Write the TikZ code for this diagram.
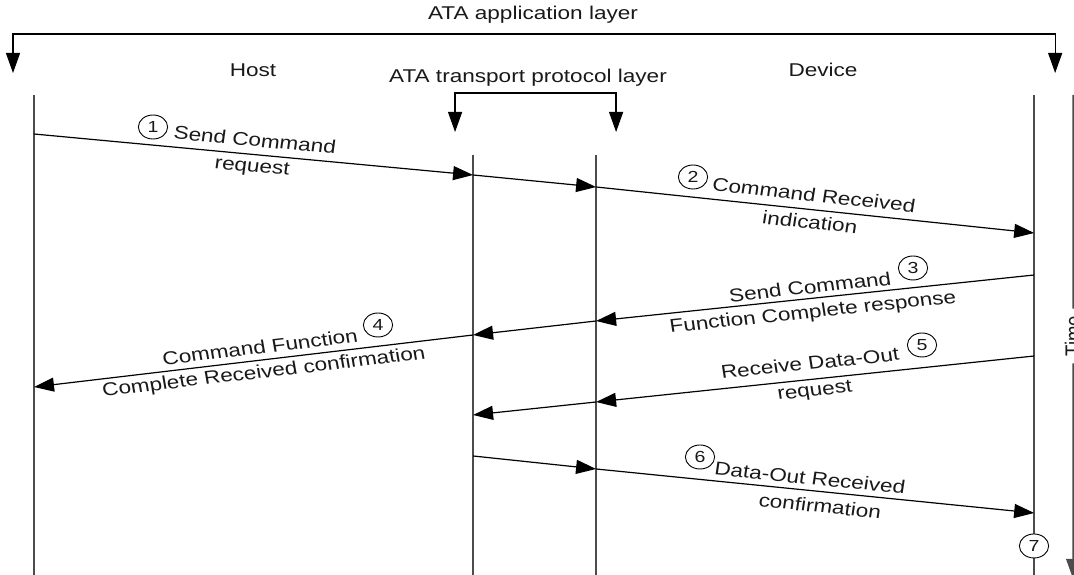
\documentclass[tikz,border=0pt]{standalone}
\usepackage{fontspec}
\setmainfont{Liberation Sans}
\usetikzlibrary{arrows.meta}

\begin{document}
\begin{tikzpicture}[x=0.8197pt, y=-1pt, xscale=1.22,
		every node/.style={transform shape, inner sep=1pt, text=black!90, font=\fontsize{18.5}{20}\selectfont},
		tip/.style={-{Triangle[length=20pt,width=14pt]}},
		msg/.style={tip, line width=1.2pt},
		life/.style={line width=1.5pt, black!70},
		num/.style={draw, circle, line width=0.9pt, inner sep=0pt, minimum size=24pt, fill=white, font=\fontsize{16}{16}\selectfont}]
		\useasboundingbox (0,0) rectangle (1074,575);
		% layer headings
		\node (app) at (533,15) {ATA application layer};
		\node (host) at (253,70) {Host};
		\node (dev) at (823,70) {Device};
		\node (tpl) at (528,78) {ATA transport protocol layer};
		\coordinate (appL) at (13,73);
		\coordinate (appR) at (1055,73);
		\coordinate (tpL) at (455,132);
		\coordinate (tpR) at (616,132);
		\draw[line width=1.2pt, {Triangle[length=20pt,width=14pt]}-{Triangle[length=20pt,width=14pt]}] (appL) -- ++(0,-39) -| (appR);
		\draw[line width=1.2pt, {Triangle[length=20pt,width=14pt]}-{Triangle[length=20pt,width=14pt]}] (tpL) -- ++(0,-39) -| (tpR);
		% lifelines
		\coordinate (hT) at (34,95);   \coordinate (hB) at (34,575);
		\coordinate (lT) at (473,155); \coordinate (lB) at (473,575);
		\coordinate (rT) at (596,155); \coordinate (rB) at (596,575);
		\coordinate (dT) at (1034,95); \coordinate (dB) at (1034,575);
		\draw[life] (hT) -- (hB);
		\draw[life] (lT) -- (lB);
		\draw[life] (rT) -- (rB);
		\draw[life] (dT) -- (dB);
		% time axis
		\coordinate (tT) at (1073,95);
		\coordinate (tB) at (1073,579);
		\node[rotate=90, inner sep=7pt] (time) at (1073,336) {Time};
		\draw[life] (tT) -- (time);
		\draw[life, tip] (time) -- (tB);
		% message points
		\coordinate (h1) at (34,134);  \coordinate (l1) at (473,175);
		\coordinate (r1) at (596,187); \coordinate (d1) at (1034,233);
		\coordinate (d3) at (1034,275); \coordinate (r3) at (596,321);
		\coordinate (l3) at (473,335);  \coordinate (h4) at (34,387);
		\coordinate (d5) at (1034,356); \coordinate (r5) at (596,402);
		\coordinate (l5) at (473,415);
		\coordinate (l6) at (473,456);  \coordinate (r6) at (596,469);
		\coordinate (d6) at (1034,513);
		\draw[msg] (h1) -- (l1);
		\draw[msg] (l1) -- (r1);
		\draw[msg] (r1) -- (d1);
		\draw[msg] (d3) -- (r3);
		\draw[msg] (r3) -- (l3);
		\draw[msg] (l3) -- (h4);
		\draw[msg] (d5) -- (r5);
		\draw[msg] (r5) -- (l5);
		\draw[msg] (l6) -- (r6);
		\draw[msg] (r6) -- (d6);
		% labels
		\node[num] (n1) at (153,127) {1};
		\node[rotate=-6.5] (m1a) at (255,140) {Send Command};
		\node[rotate=-6.5] (m1b) at (252,168) {request};
		\node[num] (n2) at (693,177) {2};
		\node[rotate=-7.4] (m2a) at (814,195) {Command Received};
		\node[rotate=-7.4] (m2b) at (810,222) {indication};
		\node[num] (n3) at (913,268) {3};
		\node[rotate=7.3] (m3a) at (810,287) {Send Command};
		\node[rotate=7.3] (m3b) at (813,313) {Function Complete response};
		\node[num] (n4) at (378,325) {4};
		\node[rotate=8.2] (m4a) at (260,347) {Command Function};
		\node[rotate=8.2] (m4b) at (264,373) {Complete Received confirmation};
		\node[num] (n5) at (922,345) {5};
		\node[rotate=7.3] (m5a) at (810,363) {Receive Data-Out};
		\node[rotate=7.3] (m5b) at (815,392) {request};
		\node[num] (n6) at (700,457) {6};
		\node[rotate=-7] (m6a) at (810,478) {Data-Out Received};
		\node[rotate=-7] (m6b) at (820,506) {confirmation};
		\node[num] (n7) at (1034,546) {7};
\end{tikzpicture}
\end{document}
